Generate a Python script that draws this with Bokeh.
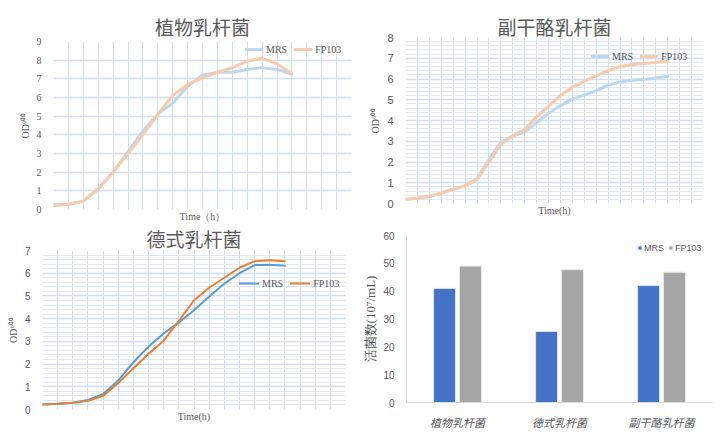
from bokeh.plotting import figure
from bokeh.layouts import row, column
from bokeh.models import (FactorRange, FixedTicker, SingleIntervalTicker,
                          Legend, LegendItem, ColumnDataSource)
from bokeh.transform import dodge
from bokeh.embed import file_html
from bokeh.resources import INLINE

# growth curves, OD600 read at each hour
hours_16 = list(range(17))
hours_22 = list(range(23))

zhiwu_mrs = [0.25, 0.28, 0.45, 1.1, 2.0, 3.1, 4.2, 5.1, 5.7, 6.6, 7.2,
             7.35, 7.35, 7.5, 7.6, 7.5, 7.25]
zhiwu_fp = [0.22, 0.27, 0.45, 1.1, 2.0, 3.0, 4.0, 5.1, 6.1, 6.7, 7.05,
            7.35, 7.6, 7.95, 8.1, 7.8, 7.3]

fugan_mrs = [0.2, 0.25, 0.35, 0.5, 0.7, 0.85, 1.2, 2.1, 2.95, 3.25, 3.45,
             3.9, 4.35, 4.72, 5.03, 5.22, 5.43, 5.7, 5.86, 5.94, 5.97, 6.05, 6.13]
fugan_fp = [0.2, 0.25, 0.35, 0.5, 0.7, 0.85, 1.15, 2.0, 2.85, 3.25, 3.57,
            4.18, 4.69, 5.2, 5.6, 5.9, 6.15, 6.4, 6.6, 6.7, 6.75, 6.8, 6.85]

deshi_mrs = [0.22, 0.25, 0.3, 0.42, 0.68, 1.28, 2.08, 2.77, 3.35, 3.83, 4.37,
             4.97, 5.54, 6.0, 6.36, 6.37, 6.33]
deshi_fp = [0.22, 0.25, 0.3, 0.38, 0.6, 1.17, 1.82, 2.45, 3.03, 3.9, 4.81,
            5.36, 5.8, 6.24, 6.53, 6.57, 6.53]

# viable counts
strains = ["植物乳杆菌", "德式乳杆菌", "副干酪乳杆菌"]
count_mrs = [41, 25.5, 42]
count_fp = [49, 47.7, 46.8]

GRAY = "#595959"
SERIF = "Liberation Serif"
SANS = "Liberation Sans"
CJK = "Noto Sans CJK SC"


def line_panel(title, hours, mrs, fp, xmax, ymax, size, borders, title_off,
               tick_font, tick_size, xlabel, colors, lw, minor, leg_loc,
               leg_glyph):
    left, right, top, bottom = borders
    p = figure(width=size[0], height=size[1], x_range=(0, xmax),
               y_range=(0, ymax), output_backend="svg", toolbar_location=None,
               frame_align=False,
               min_border_left=left, min_border_right=right,
               min_border_top=top, min_border_bottom=bottom)
    p.outline_line_color = None
    p.title.text = title
    p.title.align = "center"
    p.title.text_font = CJK
    p.title.text_font_size = "19px"
    p.title.text_font_style = "normal"
    p.title.text_color = GRAY
    p.title.standoff = title_off
    p.title.offset = 0

    p.xaxis.ticker = FixedTicker(ticks=[])
    p.xaxis.axis_line_color = None
    p.xaxis.major_tick_out = 0
    p.xaxis.major_tick_in = 0
    p.xaxis.minor_tick_out = 0
    p.xaxis.minor_tick_in = 0
    p.xaxis.major_label_standoff = 0
    p.xaxis.axis_label = xlabel
    p.xaxis.axis_label_text_font = SERIF
    p.xaxis.axis_label_text_font_size = "10px"
    p.xaxis.axis_label_text_font_style = "normal"
    p.xaxis.axis_label_text_color = GRAY
    p.xaxis.axis_label_standoff = 1
    p.xgrid.ticker = SingleIntervalTicker(interval=1)
    p.xgrid.grid_line_color = "#D0E0F2"

    yt = SingleIntervalTicker(interval=1, num_minor_ticks=5 if minor else 0)
    p.yaxis.ticker = yt
    p.yaxis.axis_line_color = None
    p.yaxis.major_tick_line_color = None
    p.yaxis.minor_tick_line_color = None
    p.yaxis.major_label_text_font = tick_font
    p.yaxis.major_label_text_font_size = tick_size
    p.yaxis.major_label_text_color = GRAY
    p.yaxis.major_label_standoff = 6
    p.yaxis.axis_label = "OD⁶⁰⁰"
    p.yaxis.axis_label_text_font = SERIF
    p.yaxis.axis_label_text_font_size = "10px"
    p.yaxis.axis_label_text_font_style = "normal"
    p.yaxis.axis_label_text_color = GRAY
    p.yaxis.axis_label_standoff = 3
    p.ygrid.grid_line_color = "#D0E0F2"
    p.ygrid.grid_line_width = 1.3
    if minor:
        p.ygrid.minor_grid_line_color = "#DFE9F6"

    r1 = p.line(hours, mrs, line_color=colors[0], line_width=lw,
                line_join="round", line_cap="round")
    r2 = p.line(hours, fp, line_color=colors[1], line_width=lw,
                line_join="round", line_cap="round")
    leg = Legend(items=[LegendItem(label="MRS", renderers=[r1]),
                        LegendItem(label="FP103", renderers=[r2])],
                 location=leg_loc, orientation="horizontal",
                 glyph_width=leg_glyph, glyph_height=14, label_height=14,
                 label_standoff=3, spacing=7, padding=0, margin=0,
                 border_line_color=None, background_fill_alpha=0,
                 label_text_font=SERIF, label_text_font_size="10px",
                 label_text_color=GRAY)
    p.add_layout(leg)
    return p


pale = ("#BDD7EE", "#F8CBAD")
full = ("#5B9BD5", "#ED7D31")

p1 = line_panel("植物乳杆菌", hours_16, zhiwu_mrs, zhiwu_fp, 20, 9,
                (360, 224), (53, 9, 41, 15), 3, SERIF, "10px", "Time（h）",
                pale, 3, False, (192, 153), 18)
p2 = line_panel("副干酪乳杆菌", hours_22, fugan_mrs, fugan_fp, 25, 8,
                (360, 224), (45, 17, 37, 21), -4.5, SANS, "11px", "Time(h)",
                pale, 3, True, (186, 140), 18)
p3 = line_panel("德式乳杆菌", hours_16, deshi_mrs, deshi_fp, 20, 7,
                (360, 208), (42, 15, 25, 23), -3.5, SANS, "10px", "Time(h)",
                full, 2, True, (197, 119), 20)

# bar chart
src = ColumnDataSource(data=dict(strain=strains, mrs=count_mrs, fp=count_fp))
p4 = figure(width=360, height=208, x_range=FactorRange(factors=strains),
            y_range=(0, 60), output_backend="svg", toolbar_location=None,
            frame_align=False,
            min_border_left=46, min_border_right=8, min_border_top=11,
            min_border_bottom=29)
p4.outline_line_color = None
p4.xgrid.grid_line_color = None
p4.ygrid.grid_line_color = None
b1 = p4.vbar(x=dodge("strain", -0.127, range=p4.x_range), top="mrs",
             width=0.215, source=src, fill_color="#4472C4",
             line_color="#DDE4F2", line_width=1)
b2 = p4.vbar(x=dodge("strain", 0.127, range=p4.x_range), top="fp",
             width=0.215, source=src, fill_color="#A5A5A5",
             line_color="#E8E8E8", line_width=1)
p4.yaxis.ticker = SingleIntervalTicker(interval=10, num_minor_ticks=0)
p4.yaxis.axis_line_color = "#D9D9D9"
p4.yaxis.major_tick_line_color = None
p4.yaxis.minor_tick_line_color = None
p4.yaxis.major_label_text_font = SANS
p4.yaxis.major_label_text_font_size = "10px"
p4.yaxis.major_label_text_color = GRAY
p4.yaxis.major_label_standoff = 6
p4.yaxis.axis_label = "活菌数(10⁷/mL)"
p4.yaxis.axis_label_text_font = SERIF
p4.yaxis.axis_label_text_font_size = "13px"
p4.yaxis.axis_label_text_font_style = "normal"
p4.yaxis.axis_label_text_color = GRAY
p4.yaxis.axis_label_standoff = 2
p4.xaxis.axis_line_color = "#D9D9D9"
p4.xaxis.major_tick_line_color = None
p4.xaxis.minor_tick_line_color = None
p4.xaxis.major_label_text_font = CJK
p4.xaxis.major_label_text_font_size = "11px"
p4.xaxis.major_label_text_font_style = "italic"
p4.xaxis.major_label_text_color = GRAY
p4.xaxis.major_label_standoff = 5
leg4 = Legend(items=[LegendItem(label="MRS", renderers=[b1]),
                     LegendItem(label="FP103", renderers=[b2])],
              location=(231, 148), orientation="horizontal",
              glyph_width=5, glyph_height=5, label_height=13,
              label_standoff=2, spacing=4, padding=0, margin=0,
              border_line_color=None, background_fill_alpha=0,
              label_text_font=SANS, label_text_font_size="9px",
              label_text_color=GRAY)
p4.add_layout(leg4)

layout = column(row(p1, p2), row(p3, p4))
open("out.html", "w").write(file_html(layout, INLINE))
